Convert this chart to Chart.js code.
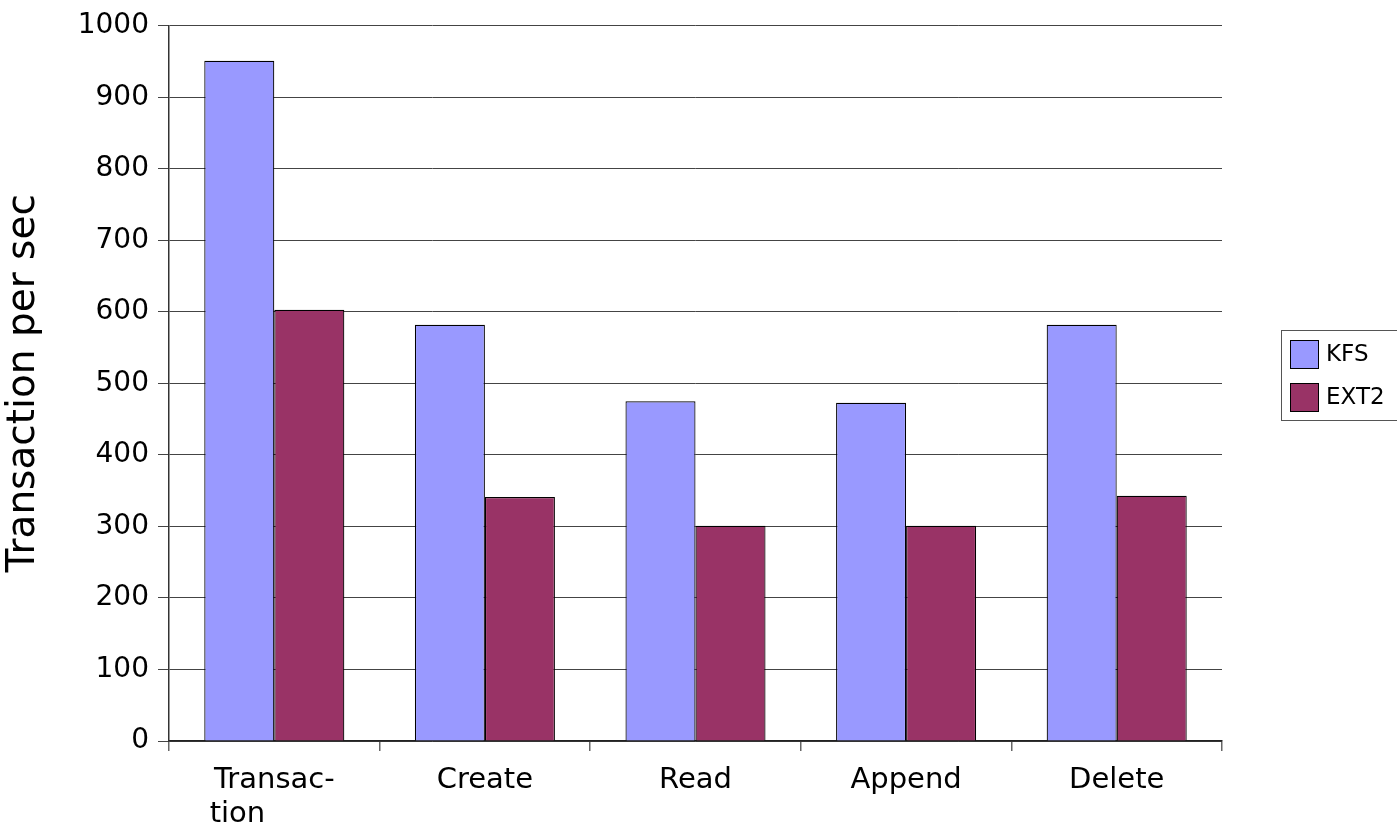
<!DOCTYPE html>
<html>
<head>
<meta charset="utf-8">
<script src="https://cdn.jsdelivr.net/npm/chart.js@4"></script>
<style>
  html, body { margin: 0; padding: 0; background: #fff; }
  #wrap { width: 1397px; height: 829px; }
</style>
</head>
<body>
<div id="wrap"><canvas id="chart" width="1397" height="829"></canvas></div>
<script>
// second line padded so both lines start at the same x, as in the original
const categories = [['Transac-', 'tion        '], 'Create', 'Read', 'Append', 'Delete'];
const kfs = [951, 582, 475, 473, 582];
const ext2 = [603, 341, 301, 301, 343];
const yTicks = [0, 100, 200, 300, 400, 500, 600, 700, 800, 900, 1000];

const font = 'DejaVu Sans';

// Legend box on the right, drawn with a border
const boxLegend = {
  id: 'boxLegend',
  afterDraw(chart) {
    const ctx = chart.ctx;
    const x = 1281, y = 330, w = 116, h = 90;
    ctx.save();
    ctx.strokeStyle = '#555';
    ctx.lineWidth = 1;
    ctx.strokeRect(x + 0.5, y + 0.5, w, h);
    ctx.font = '23px "' + font + '"';
    ctx.textBaseline = 'middle';
    chart.data.datasets.forEach((ds, i) => {
      const ry = y + 10 + i * 43;
      ctx.fillStyle = ds.backgroundColor;
      ctx.fillRect(x + 9.5, ry + 0.5, 28, 28);
      ctx.strokeStyle = '#000';
      ctx.strokeRect(x + 9.5, ry + 0.5, 28, 28);
      ctx.fillStyle = '#000';
      ctx.fillText(ds.label, x + 45, ry + 15);
    });
    ctx.restore();
  }
};

new Chart(document.getElementById('chart'), {
  type: 'bar',
  data: {
    labels: categories,
    datasets: [
      { label: 'KFS', data: kfs, backgroundColor: '#9999ff', borderColor: '#000', borderWidth: 1.2 },
      { label: 'EXT2', data: ext2, backgroundColor: '#993366', borderColor: '#000', borderWidth: 1.2 }
    ]
  },
  options: {
    responsive: false,
    animation: false,
    layout: { padding: { top: 23, right: 175, left: 0, bottom: 0 } },
    datasets: { bar: { categoryPercentage: 0.665, barPercentage: 1 } },
    plugins: { legend: { display: false }, tooltip: { enabled: false } },
    scales: {
      x: {
        grid: { offset: true, drawOnChartArea: false, color: '#666', tickLength: 10, lineWidth: 1.5 },
        border: { color: '#222', width: 1.5 },
        ticks: { color: '#000', font: { family: font, size: 29, lineHeight: 1.17 }, padding: 13, maxRotation: 0 },
        afterFit(scale) { scale.height = 88; }
      },
      y: {
        min: 0,
        max: 1000,
        afterBuildTicks(scale) { scale.ticks = yTicks.map(v => ({ value: v })); },
        grid: { color: '#444', tickLength: 11, lineWidth: 1 },
        border: { color: '#333', width: 1.5 },
        ticks: { color: '#000', font: { family: font, size: 28 }, padding: 9, callback: v => String(v) },
        title: { display: true, text: 'Transaction per sec', color: '#000', font: { family: font, size: 39 }, padding: { top: 0, bottom: 0 } },
        afterFit(scale) { scale.width = 169; }
      }
    }
  },
  plugins: [boxLegend]
});
</script>
</body>
</html>
